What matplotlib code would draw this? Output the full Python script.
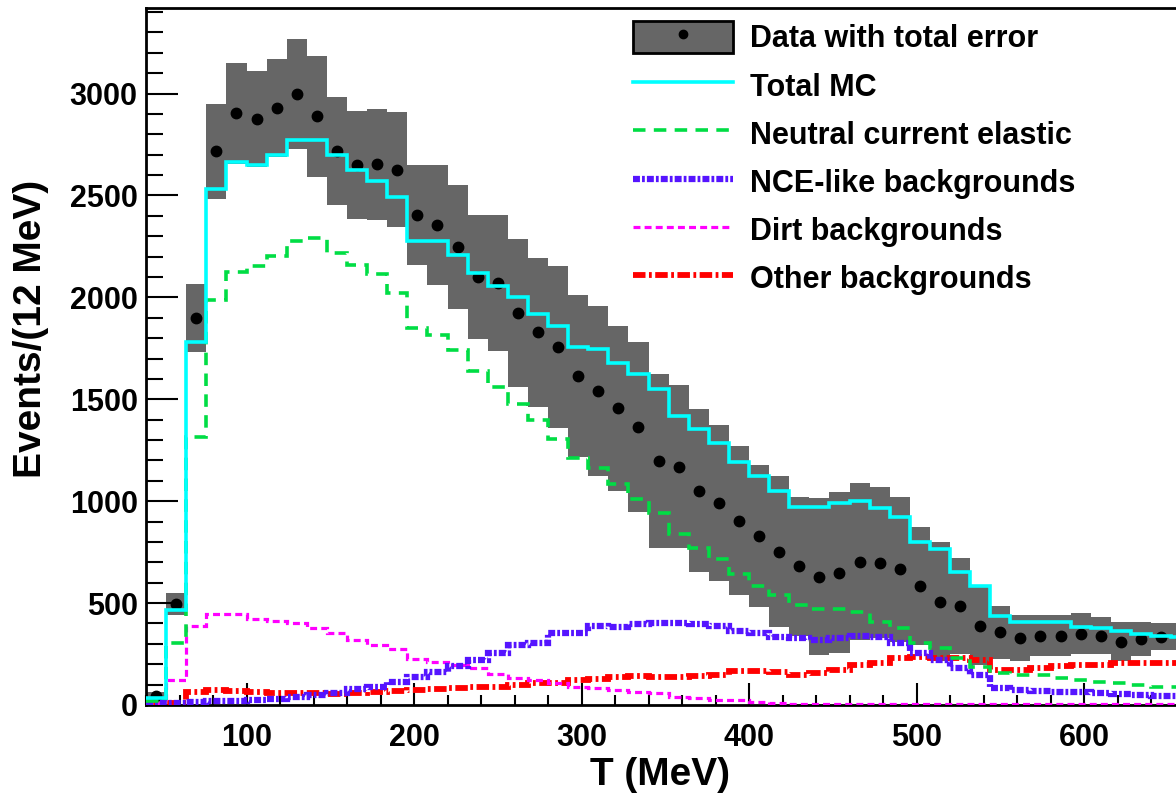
import numpy as np
import matplotlib.pyplot as plt
from matplotlib.patches import Patch
from matplotlib.lines import Line2D
from matplotlib.ticker import MultipleLocator

plt.rcParams['font.family'] = ['Liberation Sans', 'DejaVu Sans']
plt.rcParams['font.weight'] = 'bold'
plt.rcParams['lines.scale_dashes'] = False

# 12 MeV bins starting at 40 MeV
bin_lo = 40
bin_width = 12

data = [44, 496, 1898, 2716, 2903, 2875, 2929, 2998, 2888, 2716,
        2648, 2653, 2626, 2405, 2356, 2247, 2100, 2070, 1923, 1828,
        1756, 1615, 1543, 1455, 1366, 1198, 1170, 1052, 990, 905,
        830, 753, 682, 630, 650, 704, 699, 666, 584, 507,
        486, 388, 356, 328, 340, 340, 350, 339, 311, 323,
        335, 335]
data_err = [20, 52, 166, 233, 247, 234, 241, 272, 295, 265,
            265, 272, 283, 247, 295, 306, 304, 335, 365, 367,
            396, 396, 417, 405, 417, 428, 398, 399, 382, 366,
            350, 371, 341, 385, 394, 387, 370, 357, 288, 292,
            234, 190, 131, 112, 100, 100, 102, 91, 95, 83,
            66, 66]
total_mc = [33, 466, 1783, 2533, 2664, 2648, 2697, 2770, 2770, 2697,
            2626, 2569, 2495, 2279, 2279, 2209, 2119, 2054, 2000, 1918,
            1862, 1759, 1746, 1680, 1625, 1550, 1419, 1353, 1285, 1190,
            1124, 1050, 970, 970, 990, 1003, 966, 921, 802, 764,
            654, 583, 438, 406, 406, 406, 385, 377, 365, 349,
            339, 335]
nce = [20, 306, 1314, 1988, 2127, 2152, 2204, 2279, 2291, 2217,
       2160, 2116, 2021, 1849, 1816, 1743, 1640, 1560, 1478, 1396,
       1304, 1211, 1162, 1083, 1010, 944, 838, 769, 715, 643,
       584, 540, 491, 470, 470, 458, 409, 377, 303, 278,
       229, 188, 155, 147, 146, 134, 123, 114, 110, 98,
       90, 88]
nce_like = [8, 11, 16, 20, 20, 25, 28, 38, 49, 57,
            77, 90, 114, 136, 160, 192, 221, 254, 295, 303,
            352, 352, 388, 385, 398, 401, 401, 398, 388, 365,
            352, 336, 327, 319, 327, 340, 333, 303, 254, 221,
            180, 147, 82, 74, 70, 65, 62, 57, 53, 49,
            45, 45]
dirt = [8, 122, 390, 445, 445, 421, 412, 401, 377, 352,
        319, 294, 273, 224, 210, 198, 180, 150, 131, 123,
        106, 90, 82, 74, 65, 57, 41, 33, 25, 25,
        16, 10, 6, 4, 4, 4, 4, 4, 4, 4,
        3, 3, 3, 3, 3, 3, 3, 3, 3, 3,
        3, 3]
other = [6, 12, 65, 74, 69, 65, 61, 57, 57, 54,
         57, 65, 70, 74, 78, 82, 90, 90, 98, 106,
         110, 123, 127, 139, 143, 139, 139, 143, 147, 168,
         168, 160, 147, 159, 172, 196, 208, 229, 237, 233,
         229, 221, 172, 172, 180, 190, 196, 196, 208, 208,
         204, 204]

data = np.array(data)
data_err = np.array(data_err)
edges = bin_lo + bin_width * np.arange(len(data) + 1)
centers = edges[:-1] + bin_width / 2

fig = plt.figure(figsize=(11.76, 7.97), dpi=100)
ax = fig.add_axes([146 / 1176, 92 / 797, 1058 / 1176, 697 / 797])

grey = '#666666'
ax.stairs(data + data_err, edges, baseline=data - data_err, fill=True,
          color=grey, lw=0, zorder=1)
ax.plot(centers, data, 'o', color='black', ms=7.5, zorder=2)

ax.stairs(other, edges, baseline=None, color='#ff0000', lw=4.2,
          linestyle=(0, (9, 2.5, 2, 2.5)), zorder=3)
ax.stairs(dirt, edges, baseline=None, color='#ff00ff', lw=2.3,
          linestyle=(0, (5, 3)), zorder=3)
ax.stairs(nce_like, edges, baseline=None, color='#5514ff', lw=4.5,
          linestyle=(0, (5, 1.5, 2, 1.5)), zorder=4)
ax.stairs(nce, edges, baseline=None, color='#00dd44', lw=2.6,
          linestyle=(0, (9, 6)), zorder=4)
ax.stairs(total_mc, edges, baseline=None, color='#00ffff', lw=2.6, zorder=5)

ax.set_xlim(40, 40 + 1058 / 1.675)
ax.set_ylim(0, 3420)

ax.xaxis.set_major_locator(MultipleLocator(100))
ax.xaxis.set_minor_locator(MultipleLocator(20))
ax.yaxis.set_major_locator(MultipleLocator(500))
ax.yaxis.set_minor_locator(MultipleLocator(100))
ax.tick_params(axis='both', which='both', direction='in', width=1.5,
               labelsize=22, top=False, right=False)
ax.tick_params(axis='y', which='major', length=23, pad=6)
ax.tick_params(axis='y', which='minor', length=12)
ax.tick_params(axis='x', which='major', length=16, pad=13)
ax.tick_params(axis='x', which='minor', length=7)
for lab in ax.get_xticklabels() + ax.get_yticklabels():
    lab.set_fontweight('bold')
for s in ['left', 'bottom', 'top']:
    ax.spines[s].set_linewidth(2)

ax.set_xlabel('T (MeV)', fontsize=28, fontweight='bold')
ax.set_ylabel('Events/(12 MeV)', fontsize=28, fontweight='bold')
ax.xaxis.set_label_coords(0.486, -0.075)
ax.yaxis.set_label_coords(-0.092, 0.54)

handles = [
    (Patch(facecolor=grey, edgecolor='black', lw=2),
     Line2D([], [], marker='o', color='black', ls='none', ms=6)),
    Line2D([], [], color='#00ffff', lw=2.6),
    Line2D([], [], color='#00dd44', lw=2.6, ls=(0, (9, 6))),
    Line2D([], [], color='#5514ff', lw=4.5, ls=(0, (5, 1.5, 2, 1.5))),
    Line2D([], [], color='#ff00ff', lw=2.3, ls=(0, (5, 3))),
    Line2D([], [], color='#ff0000', lw=4.2, ls=(0, (9, 2.5, 2, 2.5))),
]
labels = ['Data with total error', 'Total MC', 'Neutral current elastic',
          'NCE-like backgrounds', 'Dirt backgrounds', 'Other backgrounds']
ax.legend(handles, labels, loc='upper left',
          bbox_to_anchor=(633 / 1176, 776 / 797), bbox_transform=fig.transFigure,
          frameon=False, handlelength=3.27, handleheight=1.25,
          handletextpad=0.55, labelspacing=0.48, borderpad=0, borderaxespad=0,
          prop={'weight': 'bold', 'size': 22})

fig.savefig('out.png', dpi=100)
